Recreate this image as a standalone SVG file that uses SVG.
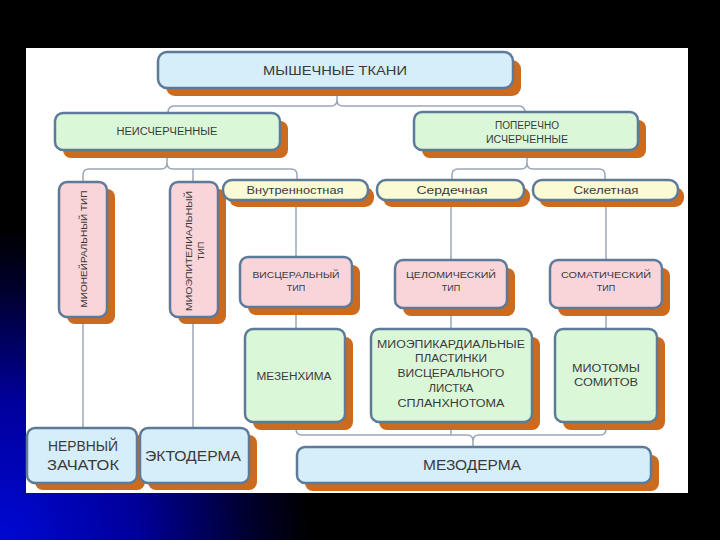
<svg xmlns="http://www.w3.org/2000/svg" width="720" height="540" viewBox="0 0 720 540">
<defs>
<radialGradient id="bg" cx="0" cy="540" r="310" gradientUnits="userSpaceOnUse">
<stop offset="0" stop-color="#0008D4"/>
<stop offset="0.45" stop-color="#00009A"/>
<stop offset="0.8" stop-color="#000030"/>
<stop offset="1" stop-color="#000000"/>
</radialGradient>
<style>
.sh{fill:#CC6A1E}
.bx{stroke:#5E7A99;stroke-width:2.5}
.blue{fill:#D6EDFA}
.green{fill:#DAF8D8}
.pink{fill:#F9D5DA}
.yel{fill:#FAFAD4}
.con{fill:none;stroke:#9AA6B6;stroke-width:1.5}
text{font-family:"Liberation Sans",Arial,sans-serif;fill:#3A3A3A;text-anchor:middle}
.s9{font-size:9px}
.s10{font-size:10px}
.s11{font-size:11px}
.s13{font-size:13px}
.s14{font-size:14px}
</style>
</defs>
<rect x="0" y="0" width="720" height="540" fill="#000"/>
<rect x="0" y="0" width="720" height="540" fill="url(#bg)"/>
<rect x="26" y="48" width="662" height="445" fill="#FFFFFF"/>

<g id="connectors" class="con">
<path d="M168,113 Q168,106 174,106 H331 Q337,106 337,100 V88 M337,100 Q337,106 343,106 H519 Q525,106 525,113"/>
<path d="M83,182 V175 Q83,169 89,169 H161 Q167,169 167,163 V150 M167,163 Q167,169 173,169 H291 Q297,169 297,175 V180 M193,169 V182"/>
<path d="M452,180 V175 Q452,169 458,169 H521 Q527,169 527,163 V150 M527,163 Q527,169 533,169 H599 Q605,169 605,175 V180"/>
<path d="M83,317 V428 M193,317 V428"/>
<path d="M296,200 V257 M296,307 V329 M451,200 V260 M451,308 V329 M606,200 V260 M606,308 V329"/>
<path d="M296,422 V429 Q296,435 302,435 H467 Q473,435 473,441 V447 M473,441 Q473,435 479,435 H600 Q606,435 606,429 V422 M451,422 V435"/>
</g>

<g id="n-myshechnye">
<rect class="sh" x="166" y="60" width="355" height="36" rx="9"/>
<rect class="bx blue" x="158" y="52" width="355" height="36" rx="9" stroke-width="3"/>
<text class="s13" x="335" y="75" textLength="144" lengthAdjust="spacingAndGlyphs">МЫШЕЧНЫЕ ТКАНИ</text>
</g>

<g id="n-neischerchennye">
<rect class="sh" x="63" y="121" width="225" height="37" rx="8"/>
<rect class="bx green" x="55" y="113" width="225" height="37" rx="8"/>
<text class="s10" x="167" y="135" textLength="101" lengthAdjust="spacingAndGlyphs">НЕИСЧЕРЧЕННЫЕ</text>
</g>

<g id="n-poperechno">
<rect class="sh" x="422" y="120" width="224" height="38" rx="8"/>
<rect class="bx green" x="414" y="112" width="224" height="38" rx="8"/>
<text class="s10" x="527" y="129" textLength="64" lengthAdjust="spacingAndGlyphs">ПОПЕРЕЧНО</text>
<text class="s10" x="527" y="143" textLength="82" lengthAdjust="spacingAndGlyphs">ИСЧЕРЧЕННЫЕ</text>
</g>

<g id="n-mioneiralny">
<rect class="sh" x="67" y="189" width="48" height="135" rx="8"/>
<rect class="bx pink" x="59" y="182" width="48" height="135" rx="8"/>
<text class="s9" transform="translate(87,249) rotate(-90)" textLength="117" lengthAdjust="spacingAndGlyphs">МИОНЕЙРАЛЬНЫЙ ТИП</text>
</g>

<g id="n-mioepitelialny">
<rect class="sh" x="178" y="189" width="48" height="135" rx="8"/>
<rect class="bx pink" x="170" y="182" width="48" height="135" rx="8"/>
<text class="s9" transform="translate(192,251) rotate(-90)" textLength="120" lengthAdjust="spacingAndGlyphs">МИОЭПИТЕЛИАЛЬНЫЙ</text>
<text class="s9" transform="translate(204,251) rotate(-90)">ТИП</text>
</g>

<g id="n-vnutrennostnaya">
<rect class="sh" x="229" y="187" width="145" height="20" rx="9"/>
<rect class="bx yel" x="223" y="180" width="145" height="20" rx="9" stroke-width="2"/>
<text class="s11" x="295" y="194" textLength="97" lengthAdjust="spacingAndGlyphs">Внутренностная</text>
</g>

<g id="n-serdechnaya">
<rect class="sh" x="383" y="187" width="147" height="20" rx="9"/>
<rect class="bx yel" x="377" y="180" width="147" height="20" rx="9" stroke-width="2"/>
<text class="s11" x="452" y="194" textLength="71" lengthAdjust="spacingAndGlyphs">Сердечная</text>
</g>

<g id="n-skeletnaya">
<rect class="sh" x="539" y="187" width="145" height="20" rx="9"/>
<rect class="bx yel" x="533" y="180" width="145" height="20" rx="9" stroke-width="2"/>
<text class="s11" x="606" y="194" textLength="65" lengthAdjust="spacingAndGlyphs">Скелетная</text>
</g>

<g id="n-visceralny">
<rect class="sh" x="248" y="265" width="112" height="50" rx="8"/>
<rect class="bx pink" x="240" y="257" width="112" height="50" rx="8"/>
<text class="s9" x="296" y="278" textLength="87" lengthAdjust="spacingAndGlyphs">ВИСЦЕРАЛЬНЫЙ</text>
<text class="s9" x="296" y="291">ТИП</text>
</g>

<g id="n-celomichesky">
<rect class="sh" x="403" y="268" width="112" height="48" rx="8"/>
<rect class="bx pink" x="395" y="260" width="112" height="48" rx="8"/>
<text class="s9" x="451" y="278" textLength="90" lengthAdjust="spacingAndGlyphs">ЦЕЛОМИЧЕСКИЙ</text>
<text class="s9" x="451" y="291">ТИП</text>
</g>

<g id="n-somatichesky">
<rect class="sh" x="558" y="268" width="112" height="48" rx="8"/>
<rect class="bx pink" x="550" y="260" width="112" height="48" rx="8"/>
<text class="s9" x="606" y="278" textLength="90" lengthAdjust="spacingAndGlyphs">СОМАТИЧЕСКИЙ</text>
<text class="s9" x="606" y="291">ТИП</text>
</g>

<g id="n-mezenhima">
<rect class="sh" x="253" y="337" width="100" height="93" rx="8"/>
<rect class="bx green" x="245" y="329" width="100" height="93" rx="8"/>
<text class="s10" x="294" y="380" textLength="75" lengthAdjust="spacingAndGlyphs">МЕЗЕНХИМА</text>
</g>

<g id="n-mioepikardialnye">
<rect class="sh" x="379" y="337" width="161" height="93" rx="8"/>
<rect class="bx green" x="371" y="329" width="161" height="93" rx="8"/>
<text class="s10" x="451" y="348" textLength="148" lengthAdjust="spacingAndGlyphs">МИОЭПИКАРДИАЛЬНЫЕ</text>
<text class="s10" x="451" y="362" textLength="72" lengthAdjust="spacingAndGlyphs">ПЛАСТИНКИ</text>
<text class="s10" x="451" y="377" textLength="107" lengthAdjust="spacingAndGlyphs">ВИСЦЕРАЛЬНОГО</text>
<text class="s10" x="451" y="392" textLength="45" lengthAdjust="spacingAndGlyphs">ЛИСТКА</text>
<text class="s10" x="451" y="407" textLength="107" lengthAdjust="spacingAndGlyphs">СПЛАНХНОТОМА</text>
</g>

<g id="n-miotomy">
<rect class="sh" x="563" y="337" width="102" height="93" rx="8"/>
<rect class="bx green" x="555" y="329" width="102" height="93" rx="8"/>
<text class="s10" x="606" y="372" textLength="68" lengthAdjust="spacingAndGlyphs">МИОТОМЫ</text>
<text class="s10" x="606" y="386" textLength="64" lengthAdjust="spacingAndGlyphs">СОМИТОВ</text>
</g>

<g id="n-nervny">
<rect class="sh" x="35" y="435" width="110" height="55" rx="8"/>
<rect class="bx blue" x="27" y="428" width="110" height="55" rx="8" stroke-width="3"/>
<text class="s14" x="83" y="451" textLength="70" lengthAdjust="spacingAndGlyphs">НЕРВНЫЙ</text>
<text class="s14" x="83" y="470" textLength="72" lengthAdjust="spacingAndGlyphs">ЗАЧАТОК</text>
</g>

<g id="n-ektoderma">
<rect class="sh" x="148" y="435" width="109" height="55" rx="8"/>
<rect class="bx blue" x="140" y="428" width="109" height="55" rx="8" stroke-width="3"/>
<text class="s14" x="193" y="461" textLength="96" lengthAdjust="spacingAndGlyphs">ЭКТОДЕРМА</text>
</g>

<g id="n-mezoderma">
<rect class="sh" x="305" y="455" width="354" height="36" rx="8"/>
<rect class="bx blue" x="297" y="447" width="354" height="36" rx="8" stroke-width="3"/>
<text class="s14" x="472" y="470" textLength="98" lengthAdjust="spacingAndGlyphs">МЕЗОДЕРМА</text>
</g>
</svg>
